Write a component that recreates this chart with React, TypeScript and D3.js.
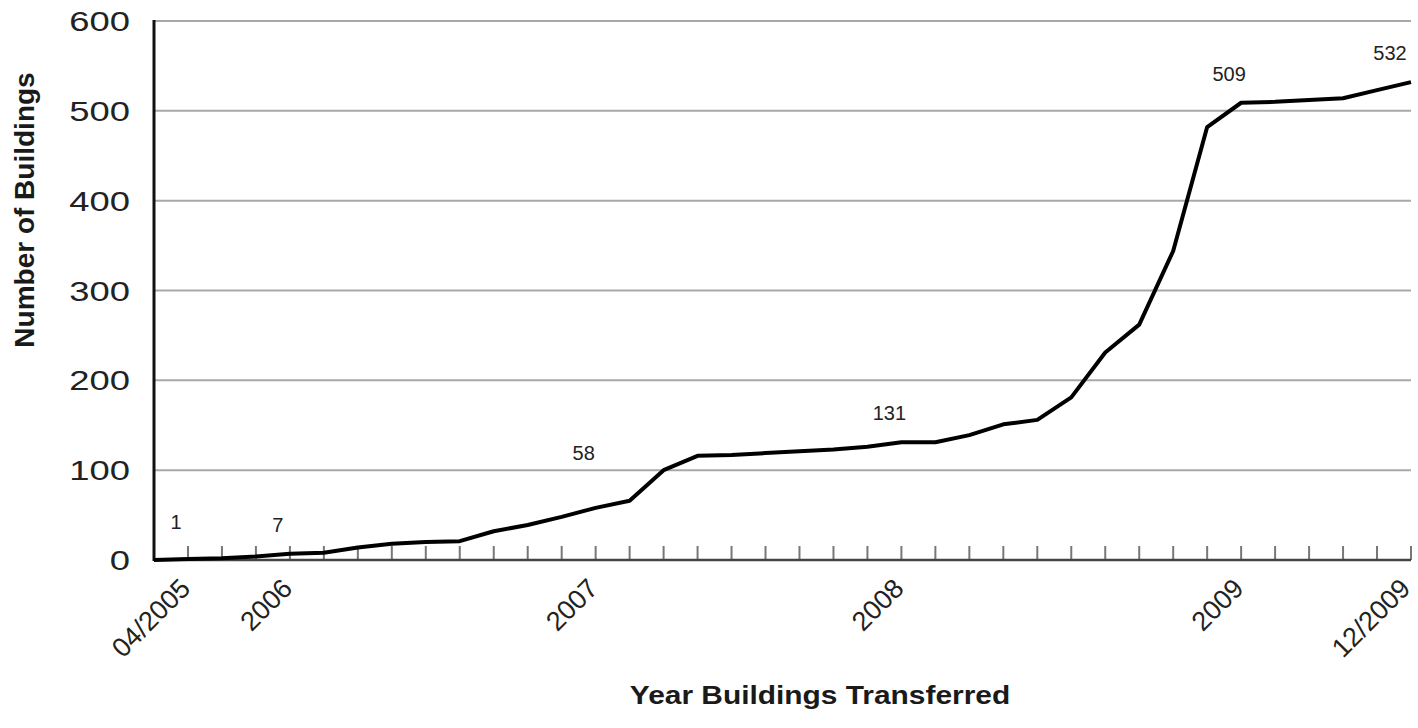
import React, { useEffect, useRef } from 'react';
import * as d3 from 'd3';

// cumulative buildings transferred, one value per axis tick
const values = [
  0, 1, 2, 4, 7, 8, 14, 18, 20, 21,
  32, 39, 48, 58, 66, 100, 116, 117, 119, 121,
  123, 126, 131, 131, 139, 151, 156, 181, 231, 262,
  344, 482, 509, 510, 512, 514, 523, 532,
];

const tickLabels: [number, string][] = [
  [1, '04/2005'],
  [4, '2006'],
  [13, '2007'],
  [22, '2008'],
  [32, '2009'],
  [37, '12/2009'],
];

const annotations: [number, string][] = [
  [1, '1'],
  [4, '7'],
  [13, '58'],
  [22, '131'],
  [32, '509'],
  [37, '532'],
];

const yTicks = [0, 100, 200, 300, 400, 500, 600];

const W = 1418;
const H = 728;
const font = '"Liberation Sans", Arial, sans-serif';

export default function App() {
  const ref = useRef<SVGSVGElement>(null);

  useEffect(() => {
    const svg = d3.select(ref.current);
    svg.selectAll('*').remove();

    const x = d3.scaleLinear().domain([0, values.length - 1]).range([154, 1411]);
    const y = d3.scaleLinear().domain([0, 600]).range([560, 21]);

    // gridlines
    svg
      .append('g')
      .selectAll('line')
      .data(yTicks.slice(1))
      .enter()
      .append('line')
      .attr('x1', x(0))
      .attr('x2', x(values.length - 1))
      .attr('y1', (d) => y(d))
      .attr('y2', (d) => y(d))
      .style('stroke', '#a8a8a8')
      .style('stroke-width', 2);

    // y labels
    svg
      .append('g')
      .selectAll('text')
      .data(yTicks)
      .enter()
      .append('text')
      .attr('transform', (d) => `translate(130,${y(d)}) scale(1.3,1)`)
      .attr('dy', '0.36em')
      .attr('text-anchor', 'end')
      .style('font-family', font)
      .style('font-size', '28px')
      .style('fill', '#222')
      .text((d) => d);

    // x ticks (inside, pointing up)
    svg
      .append('g')
      .selectAll('line')
      .data(values.map((_, i) => i).slice(1))
      .enter()
      .append('line')
      .attr('x1', (d) => x(d))
      .attr('x2', (d) => x(d))
      .attr('y1', y(0))
      .attr('y2', y(0) - 14)
      .style('stroke', '#777')
      .style('stroke-width', 2);

    // axes
    svg
      .append('line')
      .attr('x1', x(0))
      .attr('x2', x(values.length - 1))
      .attr('y1', y(0))
      .attr('y2', y(0))
      .style('stroke', '#444')
      .style('stroke-width', 2.5);
    svg
      .append('line')
      .attr('x1', x(0))
      .attr('x2', x(0))
      .attr('y1', y(600) - 1)
      .attr('y2', y(0) + 1)
      .style('stroke', '#111')
      .style('stroke-width', 3);

    // x labels
    svg
      .append('g')
      .selectAll('text')
      .data(tickLabels)
      .enter()
      .append('text')
      .attr('transform', (d) => `translate(${Math.min(x(d[0]) + 4, 1412)},${y(0) + 30}) rotate(-45)`)
      .attr('text-anchor', 'end')
      .style('font-family', font)
      .style('font-size', '27px')
      .style('fill', '#222')
      .text((d) => d[1]);

    // the line
    const line = d3
      .line<number>()
      .x((d, i) => x(i))
      .y((d) => y(d));
    svg
      .append('path')
      .datum(values)
      .attr('d', line)
      .style('fill', 'none')
      .style('stroke', '#000')
      .style('stroke-width', 4)
      .style('stroke-linejoin', 'round');

    // value annotations
    const lift: Record<string, number> = { '1': 30, '58': 48 };
    svg
      .append('g')
      .selectAll('text')
      .data(annotations)
      .enter()
      .append('text')
      .attr('x', (d) => Math.min(x(d[0]) - 12, 1390))
      .attr('y', (d) => y(values[d[0]]) - (lift[d[1]] || 22))
      .attr('text-anchor', 'middle')
      .style('font-family', font)
      .style('font-size', '20px')
      .style('fill', '#222')
      .text((d) => d[1]);

    // axis titles
    svg
      .append('text')
      .attr('transform', 'translate(34,210) rotate(-90)')
      .attr('text-anchor', 'middle')
      .style('font-family', font)
      .style('font-size', '28px')
      .style('font-weight', 'bold')
      .style('fill', '#1a1a1a')
      .text('Number of Buildings');
    svg
      .append('text')
      .attr('transform', 'translate(820,704) scale(1.15,1)')
      .attr('text-anchor', 'middle')
      .style('font-family', font)
      .style('font-size', '26px')
      .style('font-weight', 'bold')
      .style('fill', '#1a1a1a')
      .text('Year Buildings Transferred');
  }, []);

  return (
    <svg
      ref={ref}
      width={W}
      height={H}
      style={{ position: 'absolute', left: 0, top: 0, background: '#fff' }}
    />
  );
}
